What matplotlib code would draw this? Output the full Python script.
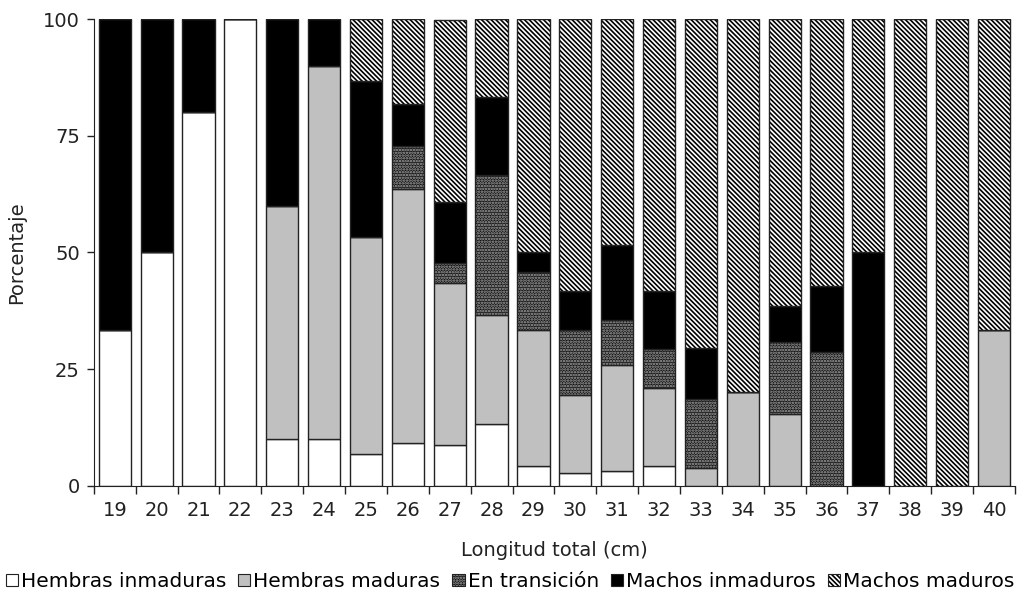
import numpy as np
import matplotlib.pyplot as plt
from matplotlib.patches import Patch

# Longitudes (cm) y porcentaje de cada categoria
longitud = list(range(19, 41))
hembras_inmaduras = [33.3, 50.0, 80.0, 100.0, 10.0, 10.0, 6.7, 9.1, 8.7, 13.3, 4.2,
                     2.8, 3.2, 4.2, 0.0, 0.0, 0.0, 0.0, 0.0, 0.0, 0.0, 0.0]
hembras_maduras = [0.0, 0.0, 0.0, 0.0, 50.0, 80.0, 46.7, 54.5, 34.8, 23.3, 29.2,
                   16.7, 22.6, 16.7, 3.7, 20.0, 15.4, 0.0, 0.0, 0.0, 0.0, 33.3]
en_transicion = [0.0, 0.0, 0.0, 0.0, 0.0, 0.0, 0.0, 9.1, 4.3, 30.0, 12.5,
                 13.9, 9.7, 8.3, 14.8, 0.0, 15.4, 28.6, 0.0, 0.0, 0.0, 0.0]
machos_inmaduros = [66.7, 50.0, 20.0, 0.0, 40.0, 10.0, 33.3, 9.1, 13.0, 16.7, 4.2,
                    8.3, 16.1, 12.5, 11.1, 0.0, 7.7, 14.3, 50.0, 0.0, 0.0, 0.0]
machos_maduros = [0.0, 0.0, 0.0, 0.0, 0.0, 0.0, 13.3, 18.2, 39.1, 16.7, 50.0,
                  58.3, 48.4, 58.3, 70.4, 80.0, 61.5, 57.1, 50.0, 100.0, 100.0, 66.7]

categorias = ['Hembras inmaduras', 'Hembras maduras', 'En transición',
              'Machos inmaduros', 'Machos maduros']
series = [hembras_inmaduras, hembras_maduras, en_transicion,
          machos_inmaduros, machos_maduros]
# (relleno, trama, color de la trama)
estilos = [('white', '', 'black'),
           ('#c0c0c0', '', 'black'),
           ('#141414', '......', '#a8a8a8'),
           ('black', '', 'black'),
           ('white', '\\\\\\\\\\\\\\', 'black')]

plt.rcParams['font.family'] = ['DejaVu Sans']
plt.rcParams['hatch.linewidth'] = 1.2

fig = plt.figure(figsize=(10.2, 5.96), dpi=100)
ax = fig.add_axes([0.092, 0.185, 0.903, 0.783])

x = np.array(longitud)
ancho = 0.77
base = np.zeros(len(x))
for valores, (cara, trama, col) in zip(series, estilos):
    v = np.array(valores)
    # relleno + trama
    ax.bar(x, v, ancho, bottom=base, color=cara, hatch=trama,
           edgecolor=col, linewidth=0)
    # contorno
    ax.bar(x, v, ancho, bottom=base, fill=False, edgecolor='#222222',
           linewidth=1.0)
    base += v

ax.set_xlim(18.5, 40.5)
ax.set_ylim(0, 100)
ax.set_yticks([0, 25, 50, 75, 100])
ax.set_xticks(x)
ax.set_xticklabels([str(v) for v in longitud])
ax.set_xticks(np.arange(18.5, 41, 1), minor=True)
ax.tick_params(axis='x', which='major', length=0, pad=11, labelsize=14,
               colors='#222222')
ax.tick_params(axis='x', which='minor', length=6, width=1, color='#222222')
ax.tick_params(axis='y', length=5, width=1, labelsize=14, color='#222222',
               labelcolor='#222222', pad=5)
for s in ['top', 'right']:
    ax.spines[s].set_visible(False)
for s in ['left', 'bottom']:
    ax.spines[s].set_color('#222222')

ax.set_xlabel('Longitud total (cm)', fontsize=14, labelpad=15, color='#222222')
ax.set_ylabel('Porcentaje', fontsize=14, labelpad=12, color='#222222')

handles = []
for (cara, trama, col) in estilos:
    relleno = Patch(facecolor=cara, hatch=trama, edgecolor=col, linewidth=0)
    borde = Patch(fill=False, edgecolor='#222222', linewidth=0.8)
    handles.append((relleno, borde))
fig.legend(handles, categorias, loc='center', bbox_to_anchor=(0.5, 0.024),
           ncol=5, frameon=False, fontsize=14.5, handlelength=0.6,
           handleheight=0.6, handletextpad=0.15, columnspacing=0.6,
           borderaxespad=0, borderpad=0)

fig.savefig('out.png', dpi=100)
